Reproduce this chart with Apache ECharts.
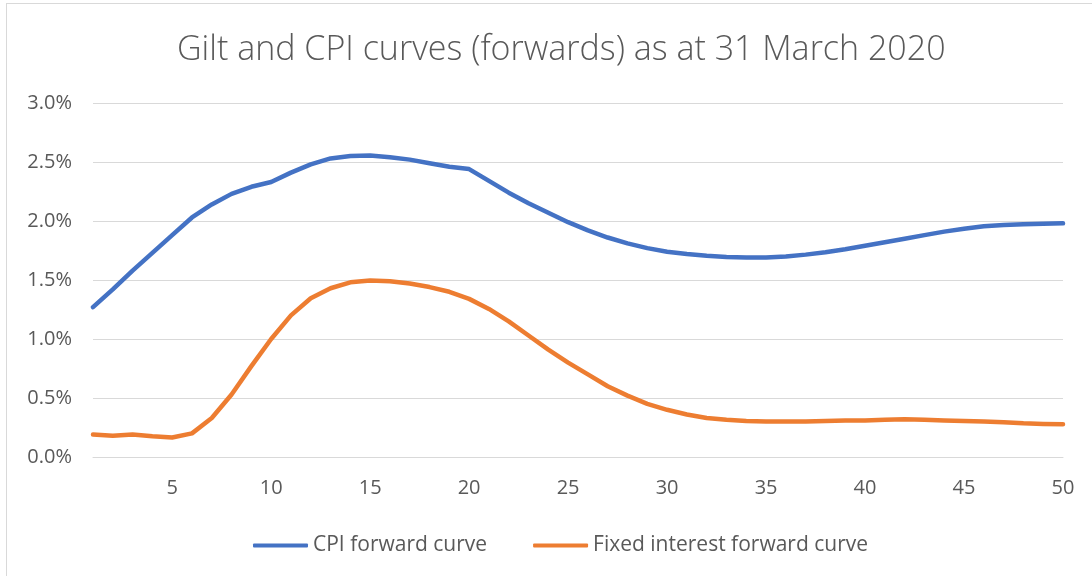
<!DOCTYPE html>
<html>
<head>
<meta charset="utf-8">
<script src="https://cdn.jsdelivr.net/npm/echarts@6/dist/echarts.min.js"></script>
<style>
	html, body { margin: 0; padding: 0; background: #fff; overflow: hidden; }
	#frame { position: absolute; left: 6px; top: 3px; width: 1100px; height: 600px; border: 1px solid #d9d9d9; box-sizing: border-box; }
	#chart { position: absolute; left: 0; top: 0; width: 1092px; height: 576px; }
</style>
</head>
<body>
<div id="frame"></div>
<div id="chart"></div>
<script>
	'use strict';

	var years = ['1', '2', '3', '4', '5', '6', '7', '8', '9', '10',
		'11', '12', '13', '14', '15', '16', '17', '18', '19', '20',
		'21', '22', '23', '24', '25', '26', '27', '28', '29', '30',
		'31', '32', '33', '34', '35', '36', '37', '38', '39', '40',
		'41', '42', '43', '44', '45', '46', '47', '48', '49', '50'];

	var cpiForward = [1.27, 1.42, 1.58, 1.73, 1.88, 2.03, 2.14, 2.23, 2.29, 2.33,
		2.41, 2.48, 2.53, 2.55, 2.555, 2.54, 2.52, 2.49, 2.46, 2.44,
		2.34, 2.24, 2.15, 2.07, 1.99, 1.92, 1.86, 1.81, 1.77, 1.74,
		1.72, 1.705, 1.695, 1.69, 1.69, 1.70, 1.715, 1.735, 1.76, 1.79,
		1.82, 1.85, 1.88, 1.91, 1.935, 1.955, 1.966, 1.973, 1.977, 1.98];

	var fixedForward = [0.19, 0.18, 0.19, 0.175, 0.165, 0.20, 0.33, 0.53, 0.77, 1.00,
		1.20, 1.345, 1.43, 1.48, 1.495, 1.49, 1.47, 1.44, 1.40, 1.34,
		1.255, 1.15, 1.03, 0.91, 0.80, 0.70, 0.60, 0.52, 0.45, 0.40,
		0.36, 0.33, 0.315, 0.305, 0.30, 0.30, 0.30, 0.305, 0.31, 0.31,
		0.315, 0.32, 0.315, 0.31, 0.305, 0.30, 0.295, 0.285, 0.28, 0.277];

	var yTicks = [0, 0.5, 1.0, 1.5, 2.0, 2.5, 3.0];

	var chart = echarts.init(document.getElementById('chart'));
	var option = {
		animation: false,
		title: {
			text: 'Gilt and CPI curves (forwards) as at 31 March 2020',
			left: 172,
			top: 28,
			textStyle: {
				fontFamily: 'Open Sans',
				fontWeight: 300,
				fontSize: 34,
				color: '#595959'
			}
		},
		grid: {
			left: 93,
			right: 29,
			top: 103,
			bottom: 119,
			containLabel: false
		},
		legend: {
			top: 530,
			left: 248,
			itemWidth: 55,
			itemHeight: 4,
			itemGap: 46,
			icon: 'roundRect',
			textStyle: {
				fontFamily: 'Open Sans',
				fontSize: 21,
				color: '#595959'
			},
			data: ['CPI forward curve', 'Fixed interest forward curve']
		},
		xAxis: {
			type: 'category',
			data: years,
			boundaryGap: false,
			axisLine: { show: true, lineStyle: { color: '#d9d9d9', width: 1 } },
			axisTick: { show: false },
			splitLine: { show: false },
			axisLabel: {
				interval: function (index) { return (index + 1) % 5 === 0; },
				margin: 21,
				fontFamily: 'Open Sans',
				fontSize: 20,
				color: '#595959'
			}
		},
		yAxis: {
			type: 'value',
			min: yTicks[0],
			max: yTicks[yTicks.length - 1],
			interval: 0.5,
			axisLine: { show: false },
			axisTick: { show: false },
			splitLine: { lineStyle: { color: '#d9d9d9', width: 1 } },
			axisLabel: {
				margin: 21,
				fontFamily: 'Open Sans',
				fontSize: 20,
				color: '#595959',
				formatter: function (v) { return v.toFixed(1) + '%'; }
			}
		},
		series: [{
			name: 'CPI forward curve',
			type: 'line',
			data: cpiForward,
			showSymbol: false,
			smooth: false,
			lineStyle: { color: '#4472c4', width: 4.5, cap: 'round', join: 'round' },
			itemStyle: { color: '#4472c4' }
		}, {
			name: 'Fixed interest forward curve',
			type: 'line',
			data: fixedForward,
			showSymbol: false,
			smooth: false,
			lineStyle: { color: '#ed7d31', width: 4.5, cap: 'round', join: 'round' },
			itemStyle: { color: '#ed7d31' }
		}]
	};
	chart.setOption(option);
</script>
</body>
</html>
